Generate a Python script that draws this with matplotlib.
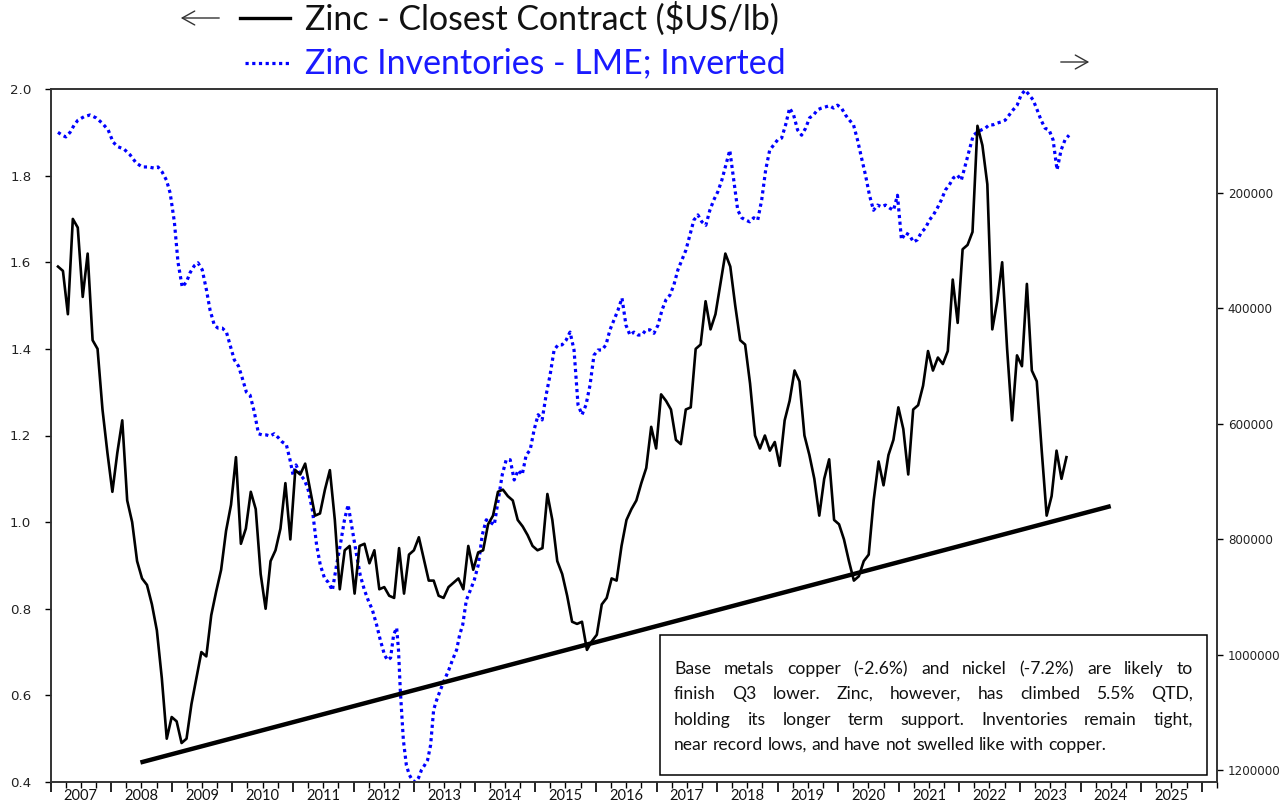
import numpy as np
import pandas as pd
import matplotlib
matplotlib.use('Agg')
import matplotlib.pyplot as plt
import matplotlib.dates as mdates
import matplotlib.transforms as mtransforms
from matplotlib.lines import Line2D
from matplotlib.patches import Rectangle, FancyArrowPatch
from matplotlib.ticker import FixedLocator, FuncFormatter

# zinc closest contract, $US/lb (roughly monthly)
zinc = [1.59, 1.58, 1.48, 1.70, 1.68, 1.52, 1.62, 1.42, 1.40, 1.26, 1.16, 1.07, 1.16, 1.235, 1.05, 1.00,
        0.91, 0.87, 0.855, 0.81, 0.75, 0.64, 0.50, 0.55, 0.54, 0.49, 0.50, 0.58, 0.64, 0.70, 0.69, 0.785,
        0.84, 0.89, 0.98, 1.04, 1.15, 0.95, 0.985, 1.07, 1.03, 0.88, 0.80, 0.91, 0.935, 0.985, 1.09, 0.96,
        1.12, 1.11, 1.135, 1.075, 1.015, 1.02, 1.075, 1.12, 1.005, 0.845, 0.935, 0.945, 0.835, 0.945, 0.95,
        0.905, 0.935, 0.845, 0.85, 0.83, 0.825, 0.94, 0.835, 0.925, 0.935, 0.965, 0.915, 0.865, 0.865, 0.83,
        0.825, 0.85, 0.86, 0.87, 0.845, 0.945, 0.89, 0.93, 0.935, 0.995, 1.015, 1.07, 1.075, 1.06, 1.05,
        1.005, 0.99, 0.97, 0.945, 0.935, 0.94, 1.065, 1.005, 0.91, 0.88, 0.83, 0.77, 0.765, 0.77, 0.705,
        0.725, 0.74, 0.81, 0.825, 0.87, 0.865, 0.945, 1.005, 1.03, 1.05, 1.09, 1.125, 1.22, 1.17, 1.295,
        1.28, 1.26, 1.19, 1.18, 1.26, 1.265, 1.40, 1.41, 1.51, 1.445, 1.48, 1.55, 1.62, 1.59, 1.50, 1.42,
        1.41, 1.32, 1.20, 1.17, 1.20, 1.165, 1.185, 1.13, 1.235, 1.28, 1.35, 1.325, 1.20, 1.155, 1.10, 1.015,
        1.10, 1.145, 1.005, 0.995, 0.96, 0.91, 0.865, 0.875, 0.91, 0.925, 1.05, 1.14, 1.085, 1.155, 1.19,
        1.265, 1.215, 1.11, 1.26, 1.27, 1.315, 1.395, 1.35, 1.38, 1.365, 1.395, 1.56, 1.46, 1.63, 1.64,
        1.67, 1.915, 1.87, 1.78, 1.445, 1.51, 1.60, 1.40, 1.235, 1.385, 1.36, 1.55, 1.35, 1.325, 1.165,
        1.015, 1.06, 1.165, 1.10, 1.15]
zinc_start, zinc_end = '2007-02-14', '2023-10-08'

# LME zinc inventories, thousand tonnes (plotted on an inverted axis)
inventories = [95, 100, 103, 95, 82, 74, 68, 65, 70, 79, 91, 112, 120, 124, 134, 148, 155, 155, 157, 155,
               164, 178, 200, 250, 320, 363, 354, 338, 326, 321, 333, 368, 403, 429, 434, 434, 441, 463,
               489, 500, 520, 545, 550, 579, 617, 619, 619, 621, 617, 624, 631, 636, 662, 688, 671, 688,
               697, 714, 749, 810, 844, 867, 874, 888, 844, 810, 766, 740, 784, 827, 862, 888, 905, 922,
               948, 974, 1000, 1009, 1005, 965, 953, 991, 1061, 1147, 1191, 1208, 1217, 1220, 1213, 1199,
               1191, 1182, 1156, 1095, 1078, 1061, 1043, 1026, 1009, 991, 965, 948, 905, 888, 870, 844,
               792, 766, 770, 775, 732, 688, 662, 662, 697, 680, 688, 654, 645, 610, 584, 593, 550, 515,
               472, 463, 463, 455, 441, 472, 567, 584, 567, 533, 481, 472, 472, 463, 437, 420, 403, 382,
               429, 446, 441, 446, 446, 437, 437, 443, 429, 403, 385, 377, 359, 333, 316, 299, 273, 247,
               238, 250, 256, 230, 212, 198, 178, 152, 126, 178, 230, 243, 247, 250, 243, 247, 212, 160,
               126, 117, 108, 105, 82, 53, 65, 91, 100, 88, 70, 65, 56, 53, 51, 49, 53, 48, 53, 65, 74, 82,
               108, 139, 169, 204, 230, 221, 224, 221, 226, 230, 204, 281, 269, 273, 285, 281, 268, 261,
               247, 238, 226, 212, 195, 186, 174, 169, 178, 152, 126, 100, 95, 91, 88, 82, 82, 79, 77, 74,
               65, 56, 48, 30, 22, 30, 39, 56, 74, 88, 91, 108, 160, 126, 108, 100]
# sample dates (decimal years) up to late 2013, after that evenly spaced readings
inv_years_early = [2007.12, 2007.19, 2007.25, 2007.32, 2007.39, 2007.45, 2007.55, 2007.65, 2007.75, 2007.85,
                   2007.95, 2008.03, 2008.11, 2008.21, 2008.31, 2008.41, 2008.51, 2008.61, 2008.71, 2008.77,
                   2008.84, 2008.91, 2008.97, 2009.04, 2009.10, 2009.17, 2009.24, 2009.30, 2009.37, 2009.43,
                   2009.50, 2009.57, 2009.63, 2009.70, 2009.76, 2009.83, 2009.90, 2009.96, 2010.03, 2010.10,
                   2010.16, 2010.23, 2010.29, 2010.36, 2010.43, 2010.49, 2010.56, 2010.62, 2010.69, 2010.76,
                   2010.82, 2010.89, 2010.95, 2011.00, 2011.05, 2011.12, 2011.19, 2011.25, 2011.32, 2011.39,
                   2011.45, 2011.52, 2011.58, 2011.65, 2011.72, 2011.78, 2011.85, 2011.91, 2011.98, 2012.05,
                   2012.11, 2012.18, 2012.24, 2012.31, 2012.38, 2012.44, 2012.51, 2012.56, 2012.61, 2012.66,
                   2012.71, 2012.74, 2012.77, 2012.82, 2012.87, 2012.92, 2012.97, 2013.02, 2013.07, 2013.12,
                   2013.17, 2013.22, 2013.27, 2013.32, 2013.37, 2013.43, 2013.50, 2013.57, 2013.63, 2013.70,
                   2013.75, 2013.80]
inv_late_start, inv_late_end = 2013.86, 2023.81

# long-term support line
trend_dates = ['2008-06-25', '2024-07-01']
trend_vals = [0.445, 1.037]

years = list(range(2007, 2026))
left_ticks = [0.4, 0.6, 0.8, 1.0, 1.2, 1.4, 1.6, 1.8, 2.0]
right_ticks = [200000, 400000, 600000, 800000, 1000000, 1200000]

label_price = 'Zinc - Closest Contract ($US/lb)'
label_inv = 'Zinc Inventories - LME; Inverted'
note_lines = ['Base metals copper (-2.6%) and nickel (-7.2%) are likely to',
              'finish Q3 lower.  Zinc, however, has climbed 5.5% QTD,',
              'holding its longer term support.  Inventories remain tight,',
              'near record lows, and have not swelled like with copper.']


def to_ts(y):
    yr = int(y)
    start = pd.Timestamp(yr, 1, 1)
    return start + (pd.Timestamp(yr + 1, 1, 1) - start) * (y - yr)


zinc_dates = pd.date_range(zinc_start, zinc_end, periods=len(zinc))
n_late = len(inventories) - len(inv_years_early)
inv_years = list(inv_years_early) + list(np.linspace(inv_late_start, inv_late_end, n_late))
inv_dates = [to_ts(y) for y in inv_years]
inv_tonnes = np.array(inventories) * 1000

W, H = 1280, 808
fig = plt.figure(figsize=(W / 100, H / 100), dpi=100)
ax = fig.add_axes([50.7 / W, 26 / H, 1166 / W, 693 / H])
ax2 = ax.twinx()

# inventories (right axis, inverted)
ax2.plot(inv_dates, inv_tonnes, color='#0000ff', lw=2.3, linestyle=(0, (1, 1.1)))
ax2.set_ylim(1220000, 20000)
ax2.yaxis.set_major_locator(FixedLocator(right_ticks))
ax2.yaxis.set_major_formatter(FuncFormatter(lambda v, p: '%d' % v))
ax2.tick_params(axis='y', direction='out', length=4, width=1, pad=4,
                labelsize=8.6, labelcolor='#222222')

# price + support line on top
ax.set_zorder(ax2.get_zorder() + 1)
ax.patch.set_visible(False)
ax.plot(zinc_dates, zinc, color='black', lw=1.9)
ax.plot(pd.to_datetime(trend_dates), trend_vals, color='black', lw=3.2, solid_capstyle='butt')

ax.set_ylim(0.4, 2.0)
ax.yaxis.set_major_locator(FixedLocator(left_ticks))
ax.yaxis.set_major_formatter(FuncFormatter(lambda v, p: '%.1f' % v))
ax.tick_params(axis='y', direction='out', length=4, width=1, pad=10,
               labelsize=9.6, labelcolor='#222222')

ax.set_xlim(pd.Timestamp('2007-01-01'), pd.Timestamp('2026-04-01'))
ax.xaxis.set_major_locator(mdates.YearLocator())
ax.xaxis.set_minor_locator(mdates.MonthLocator([4, 7, 10]))
ax.xaxis.set_major_formatter(FuncFormatter(lambda v, p: ''))
ax.tick_params(axis='x', which='major', direction='out', length=7, width=1.2)
ax.tick_params(axis='x', which='minor', direction='out', length=4, width=1)

# year labels centred in each year
lab_tr = mtransforms.offset_copy(ax.get_xaxis_transform(), fig=fig, y=-14, units='dots')
for y in years:
    ax.text(pd.Timestamp('%d-07-01' % y), 0, str(y), transform=lab_tr, ha='center', va='center',
            fontsize=10.5, family='Lato', color='#111111')

for a in (ax, ax2):
    for s in a.spines.values():
        s.set_color('#333333')
        s.set_linewidth(1.2)


# legend at the top
def fx(px):
    return px / W


def fy(py):
    return 1 - py / H


fig.add_artist(Line2D([fx(240), fx(290)], [fy(18), fy(18)], color='black', lw=2.4))
fig.add_artist(Line2D([fx(245), fx(291)], [fy(63), fy(63)], color='#0000ff', lw=2.3,
                      linestyle=(0, (1, 1.1))))
fig.text(fx(305), fy(19), label_price, fontsize=24.4, family='Lato', color='#111111', va='center')
fig.text(fx(305), fy(63), label_inv, fontsize=24.4, family='Lato', color='#1a1aff', va='center')
fig.add_artist(FancyArrowPatch((fx(222), fy(18)), (fx(178), fy(18)), transform=fig.transFigure,
                               arrowstyle='->,head_length=9,head_width=5', lw=1.0, color='#333333'))
fig.add_artist(FancyArrowPatch((fx(1058), fy(62)), (fx(1092), fy(62)), transform=fig.transFigure,
                               arrowstyle='->,head_length=9,head_width=5', lw=1.0, color='#333333'))

# comment box with justified text
fig.add_artist(Rectangle((fx(660), fy(775)), (1207 - 660) / W, (775 - 635) / H,
                         transform=fig.transFigure, facecolor='white', edgecolor='black', lw=1.1,
                         zorder=5))
renderer = fig.canvas.get_renderer()
note_font = dict(fontsize=12.6, family='Lato', color='#111111')
tmp_a = fig.text(0, 0, 'a a', **note_font)
tmp_b = fig.text(0, 0, 'aa', **note_font)
space_w = tmp_a.get_window_extent(renderer).width - tmp_b.get_window_extent(renderer).width
tmp_a.remove()
tmp_b.remove()

x0, x1 = 674, 1193
baselines = [674, 699, 725, 750]
for i, line in enumerate(note_lines):
    words = line.split()
    texts = [fig.text(0, 0, w, zorder=6, **note_font) for w in words]
    widths = [t.get_window_extent(renderer).width for t in texts]
    if i < len(note_lines) - 1:
        gap = (x1 - x0 - sum(widths)) / (len(words) - 1)
    else:
        gap = space_w
    xpos = x0
    for t, w in zip(texts, widths):
        t.set_position((fx(xpos), fy(baselines[i])))
        t.set_va('baseline')
        xpos += w + gap

fig.savefig('out.png', dpi=100)
